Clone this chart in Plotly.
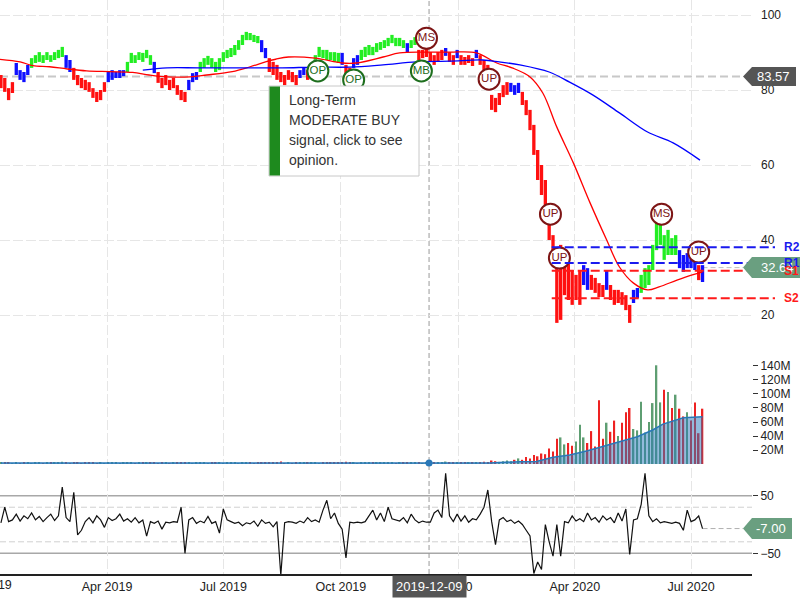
import pandas as pd
import plotly.graph_objects as go

# ---------------- data ----------------
BAR_START = "2019-01-08"      # one bar per 3 calendar days
BAR_STEP = "3D"

HIGH = [
    84.0, 83.2, 80.5, 82.1, 87.2, 85.3, 84.8, 86.7, 88.5, 89.3,
    90.1, 89.3, 90.1, 89.3, 90.1, 90.7, 91.5, 89.3, 88.0, 85.9,
    84.0, 83.2, 82.7, 82.1, 80.5, 79.5, 80.0, 82.1, 84.8, 85.3,
    84.8, 85.3, 85.3, 87.5, 89.9, 89.3, 90.1, 89.9, 90.7, 89.3,
    87.5, 84.8, 83.2, 84.0, 82.7, 83.2, 81.3, 80.0, 79.5, 82.7,
    84.5, 84.8, 87.5, 88.5, 89.1, 88.5, 87.5, 88.5, 90.1, 90.7,
    91.2, 92.0, 93.3, 94.7, 95.5, 95.2, 94.7, 94.4, 93.3, 91.2,
    88.5, 87.5, 86.7, 84.8, 84.0, 85.3, 84.8, 84.0, 85.3, 85.9,
    85.3, 86.4, 89.3, 91.5, 90.7, 90.7, 90.1, 90.1, 89.9, 89.9,
    86.7, 85.9, 88.5, 89.3, 90.7, 91.5, 92.0, 91.5, 92.5, 92.8,
    93.3, 93.9, 94.7, 93.9, 93.9, 93.3, 92.5, 93.3, 94.1, 90.7,
    90.7, 91.2, 90.1, 89.3, 90.1, 90.7, 91.2, 90.1, 89.3, 90.7,
    89.3, 88.8, 89.3, 88.5, 90.7, 89.3, 88.0, 86.7, 78.7, 77.9,
    79.2, 81.3, 82.1, 81.9, 81.3, 81.9, 79.5, 77.3, 74.7, 70.7,
    64.0, 60.0, 56.0, 49.3, 41.3, 36.0, 38.7, 37.3, 36.0, 32.0,
    30.7, 32.0, 33.3, 32.5, 30.7, 29.9, 28.5, 28.0, 32.0, 28.0,
    26.7, 26.7, 26.1, 25.3, 22.7, 26.7, 27.2, 30.7, 32.5, 33.3,
    38.7, 44.8, 44.0, 41.3, 42.7, 40.5, 41.3, 37.3, 36.0, 36.5,
    36.0, 35.5, 33.3, 33.3,
]
LOW = [
    80.5, 79.5, 77.3, 79.2, 84.0, 82.7, 82.1, 84.0, 85.9, 87.2,
    87.5, 87.2, 88.0, 87.5, 88.0, 88.5, 88.8, 85.9, 84.8, 82.7,
    81.3, 80.5, 80.0, 79.5, 77.9, 76.8, 77.3, 79.5, 82.1, 82.7,
    83.2, 83.2, 83.7, 84.8, 87.2, 87.2, 88.0, 87.5, 88.5, 86.7,
    84.5, 81.9, 80.5, 81.3, 80.0, 80.5, 78.7, 77.3, 76.8, 80.0,
    82.1, 82.7, 84.8, 85.9, 86.7, 85.9, 84.8, 85.3, 87.5, 88.5,
    88.8, 89.3, 90.7, 92.0, 93.3, 93.3, 92.8, 92.5, 90.1, 88.5,
    84.8, 84.0, 82.7, 82.1, 81.3, 82.7, 82.1, 81.3, 83.2, 84.0,
    82.7, 84.3, 86.7, 88.8, 88.5, 88.0, 88.0, 87.5, 87.2, 86.7,
    84.0, 83.2, 85.9, 86.7, 88.0, 88.8, 89.3, 89.3, 90.1, 90.7,
    91.2, 91.7, 92.5, 91.7, 91.7, 91.2, 90.1, 91.2, 92.0, 88.0,
    88.5, 88.8, 87.5, 86.7, 87.5, 88.0, 89.1, 87.5, 86.7, 88.5,
    86.7, 86.7, 87.2, 86.4, 88.5, 86.7, 85.3, 83.2, 74.7, 74.1,
    76.0, 78.1, 78.7, 79.5, 78.7, 79.2, 76.0, 73.3, 69.3, 62.7,
    56.0, 52.0, 48.0, 40.0, 33.3, 17.9, 18.7, 25.3, 24.0, 22.7,
    24.0, 22.7, 28.0, 26.7, 26.7, 25.9, 24.8, 24.8, 26.7, 24.0,
    22.7, 23.2, 22.7, 21.3, 17.9, 23.2, 24.5, 25.9, 27.2, 28.0,
    32.0, 37.3, 38.7, 34.7, 36.0, 36.0, 36.0, 32.5, 31.5, 32.5,
    32.5, 32.0, 29.3, 28.8,
]
# trend state of each bar: g = bullish, b = neutral, r = bearish (run-length)
TREND_RUNS = [
    ("r", 4), ("b", 4), ("g", 9), ("b", 2), ("r", 9), ("b", 5), ("g", 7), ("b", 1),
    ("r", 8), ("b", 3), ("g", 16), ("b", 2), ("r", 8), ("b", 2), ("r", 1), ("b", 1),
    ("g", 7), ("b", 1), ("r", 2), ("b", 2), ("g", 12), ("b", 1), ("g", 2), ("r", 7),
    ("b", 1), ("r", 2), ("b", 1), ("r", 4), ("b", 1), ("r", 8), ("b", 3), ("r", 16),
    ("b", 2), ("r", 4), ("b", 1), ("r", 6), ("b", 2), ("g", 10), ("b", 5), ("r", 1),
    ("b", 1),
]
VOLUME_M = [
    1.5, 2.2, 1.8, 1.2, 2.5, 1.4, 1.9, 2.8, 1.3, 1.6,
    2.1, 1.1, 1.7, 2.4, 1.5, 1.9, 3.2, 2.0, 1.4, 2.6,
    1.8, 1.2, 1.6, 2.3, 1.9, 1.4, 2.0, 1.3, 1.7, 2.5,
    1.5, 1.1, 1.8, 2.2, 1.6, 1.3, 2.0, 1.7, 2.9, 1.5,
    1.9, 1.2, 2.4, 1.6, 1.4, 2.1, 1.8, 2.6, 3.0, 1.7,
    1.3, 1.9, 1.5, 2.2, 1.4, 1.8, 2.5, 1.6, 1.2, 2.0,
    1.5, 1.9, 1.3, 1.7, 2.3, 1.6, 1.4, 2.0, 1.8, 2.7,
    1.5, 1.9, 1.6, 3.4, 1.4, 1.8, 1.3, 2.1, 1.7, 1.5,
    2.2, 1.6, 1.9, 1.4, 2.4, 2.8, 1.7, 2.0, 1.5, 2.2,
    3.1, 1.6, 1.8, 1.4, 1.9, 1.6, 2.3, 1.5, 2.0, 1.7,
    2.5, 1.6, 1.9, 1.4, 1.8, 1.5, 2.1, 1.7, 1.6, 1.9,
    1.4, 2.2, 1.8, 2.0, 2.4, 1.7, 3.5, 1.9, 1.6, 2.3,
    1.8, 2.0, 1.7, 2.2, 2.6, 2.9, 3.1, 3.0, 5.0, 4.0,
    3.0, 4.0, 5.0, 4.0, 6.0, 8.0, 6.0, 10.0, 8.0, 13.0,
    11.0, 15.0, 14.0, 22.0, 18.0, 36.0, 38.0, 28.0, 30.0, 26.0,
    32.0, 56.0, 38.0, 30.0, 47.0, 25.0, 91.0, 36.0, 59.0, 46.0,
    62.0, 40.0, 59.0, 74.0, 80.0, 50.0, 48.0, 89.0, 45.0, 60.0,
    87.0, 141.0, 88.0, 106.0, 103.0, 80.0, 99.0, 79.0, 68.0, 74.0,
    62.0, 88.0, 44.0, 79.0,
]
OSC = [
    3, 30, 5, 8, 18, 6, 15, 10, 20, 8,
    14, 5, 12, 18, 7, 15, 65, 12, 5, 56,
    -18, -10, 5, 12, 3, 15, 8, -5, 12, 7,
    10, 18, 6, 10, 4, 12, 3, 8, -20, 5,
    2, 6, -8, 4, 3, 5, 4, 30, -50, 8,
    12, 2, 6, 3, 14, 2, 5, -15, 27, 8,
    5, 2, 4, -2, 3, 1, 6, -3, 8, 2,
    4, -4, 5, -88, 3, 5, 4, 2, 6, 3,
    12, 5, 8, 4, 25, 42, 10, 20, 2, -8,
    -58, 4, 3, 4, 3, 5, 15, 25, 8, 20,
    5, 30, 10, 8, 6, 12, 3, 18, 8, 3,
    6, 4, 4, 20, 25, 12, 89, 15, 5, 18,
    6, 15, 4, 10, 8, 18, 30, 60, 5, -35,
    8, 12, 5, 8, 2, 6, 0, -10, -20, -85,
    -65, -78, 0, -30, -55, 0, -55, 5, 3, 15,
    6, 10, 5, 20, 8, 12, 4, 15, 8, 12,
    3, 20, 6, 27, -52, 8, 10, 35, 89, 15,
    5, 10, 3, 5, 3, 2, 4, 2, -10, 25,
    5, 8, 15, -7,
]

RED_MA_DATES = [
    "2019-01-07", "2019-01-23", "2019-02-02", "2019-02-15", "2019-03-01", "2019-03-16",
    "2019-04-03", "2019-04-21", "2019-05-04", "2019-05-18", "2019-06-05", "2019-06-18",
    "2019-07-08", "2019-07-22", "2019-08-03", "2019-08-11", "2019-08-21", "2019-09-11",
    "2019-10-02", "2019-10-13", "2019-11-03", "2019-11-16", "2019-12-07", "2019-12-25",
    "2020-01-15", "2020-01-31", "2020-02-12", "2020-02-26", "2020-03-07", "2020-03-18",
    "2020-03-31", "2020-04-13", "2020-04-26", "2020-05-06", "2020-05-17", "2020-05-28",
    "2020-06-06", "2020-06-20", "2020-07-02", "2020-07-10",
]
RED_MA = [
    88.2, 87.5, 86.5, 86.2, 85.6, 85.1, 84.9, 84.7, 84.0, 83.5,
    83.5, 84.0, 84.9, 86.2, 87.5, 88.2, 88.8, 88.5, 87.2, 87.2,
    88.8, 89.9, 90.1, 90.1, 89.9, 87.2, 85.9, 83.5, 79.2, 70.1,
    60.5, 49.9, 40.0, 32.8, 28.5, 26.7, 27.5, 29.3, 30.7, 31.5,
]
BLUE_MA_DATES = [
    "2019-04-29", "2019-05-18", "2019-06-12", "2019-07-22", "2019-08-16", "2019-09-11",
    "2019-10-08", "2019-11-03", "2019-11-29", "2019-12-25", "2020-01-20", "2020-02-02",
    "2020-02-18", "2020-03-12", "2020-03-28", "2020-04-15", "2020-05-06", "2020-05-28",
    "2020-06-17", "2020-07-08",
]
BLUE_MA = [
    85.3, 85.9, 85.9, 85.9, 85.9, 86.1, 86.1, 86.7, 87.5, 87.7,
    88.0, 87.5, 86.7, 84.8, 82.1, 78.7, 73.9, 68.8, 65.9, 61.3,
]
VOLAVG_DATES = [
    "2019-01-08", "2020-01-25", "2020-02-18", "2020-03-02", "2020-03-15", "2020-03-28",
    "2020-04-11", "2020-04-23", "2020-05-06", "2020-05-20", "2020-06-01", "2020-06-09",
    "2020-06-17", "2020-06-25", "2020-07-10",
]
VOLAVG_M = [1.3, 1.6, 3.3, 3.6, 9.5, 12.9, 19.0, 24.8, 31.9, 39.0, 48.6, 57.0, 61.9, 66.0, 67.6]

SIG_DATES = ["2019-12-07", "2019-09-13", "2019-10-11", "2019-12-03", "2020-01-25",
             "2020-03-13", "2020-03-20", "2020-06-08", "2020-07-07"]
SIG_PRICES = [93.8, 85.1, 82.7, 85.1, 82.9, 46.9, 35.2, 46.9, 36.8]
SIG_LABELS = ["MS", "OP", "OP", "MB", "UP", "UP", "UP", "MS", "UP"]

LEVEL_NAMES = ["R2", "R1", "S1", "S2"]
LEVEL_VALUES = [38.1, 33.9, 31.8, 24.5]
LEVEL_START = "2020-03-14"

CROSS_DATE = "2019-12-09"
CROSS_PRICE = 83.57
CROSS_VOL_M = 1.4
LAST_CLOSE = 32.64
LAST_OSC = -7.00

X_TICK_DATES = ["2019-04-01", "2019-07-01", "2019-10-01", "2020-01-01", "2020-04-01", "2020-07-01"]
X_TICK_LABELS = ["Apr 2019", "Jul 2019", "Oct 2019", "2020", "Apr 2020", "Jul 2020"]
X_FIRST_TICK = ("2019-01-01", "2019")      # just left of the visible range
PRICE_TICKS = [20, 40, 60, 80, 100]
VOL_TICKS_M = [20, 40, 60, 80, 100, 120, 140]
OSC_TICKS = [50, -50]
OSC_BANDS = [50, -50]
OSC_INNER = [30, -30]
TOOLTIP_LINES = ["Long-Term", "MODERATE BUY", "signal, click to see", "opinion."]

# ---------------- figure ----------------
FONT = "Liberation Sans, Arial, sans-serif"
PW, PH = 752.0, 574.0                       # plot area in pixels
X0 = pd.Timestamp("2019-01-07 06:30")
X1 = pd.Timestamp("2020-08-17 17:00")


def xfrac(d):
    return (pd.Timestamp(d) - X0) / (X1 - X0)


def px(x):
    return x / PW


def py(y):
    return (PH - y) / PH


n = len(HIGH)
assert len(LOW) == n and len(VOLUME_M) == n and len(OSC) == n
dates = pd.date_range(BAR_START, periods=n, freq=BAR_STEP)
trend = [c for c, k in TREND_RUNS for _ in range(k)]
assert len(trend) == n
TREND_COLORS = {"r": "#ff1010", "b": "#1010ff", "g": "#22ee22"}
DAY = 86400000

fig = go.Figure()

fig.add_trace(go.Bar(
    x=dates, base=LOW, y=[h - l for h, l in zip(HIGH, LOW)],
    width=2.6 * DAY, marker=dict(color=[TREND_COLORS[t] for t in trend], line_width=0),
    xaxis="x", yaxis="y", hoverinfo="skip"))

fig.add_trace(go.Scatter(x=RED_MA_DATES, y=RED_MA, mode="lines", line=dict(color="#ff0000", width=1.3, shape="spline"),
                         xaxis="x", yaxis="y", hoverinfo="skip"))
fig.add_trace(go.Scatter(x=BLUE_MA_DATES, y=BLUE_MA, mode="lines", line=dict(color="#0000ff", width=1.3, shape="spline"),
                         xaxis="x", yaxis="y", hoverinfo="skip"))

sig_col = ["#1d6e1d" if s in ("OP", "MB") else "#7d1515" for s in SIG_LABELS]
fig.add_trace(go.Scatter(
    x=SIG_DATES, y=SIG_PRICES, mode="markers+text", text=SIG_LABELS, textposition="middle center",
    textfont=dict(family=FONT, size=11.5, color=sig_col),
    marker=dict(symbol="circle", size=21, color="white", line=dict(color=sig_col, width=2)),
    xaxis="x", yaxis="y", hoverinfo="skip", cliponaxis=False))

# volume
mids = [(h + l) / 2 for h, l in zip(HIGH, LOW)]
vol_col = ["#5e9e72" if i == 0 or mids[i] >= mids[i - 1] else "#ee2222" for i in range(n)]
fig.add_trace(go.Bar(x=dates, y=[v * 1e6 for v in VOLUME_M], width=1.2 * DAY,
                     marker=dict(color=vol_col, line_width=0), xaxis="x2", yaxis="y2", hoverinfo="skip"))
fig.add_trace(go.Scatter(x=VOLAVG_DATES, y=[v * 1e6 for v in VOLAVG_M], mode="lines", fill="tozeroy",
                         fillcolor="rgba(40,120,185,0.5)", line=dict(color="#2a78b8", width=1.5),
                         xaxis="x2", yaxis="y2", hoverinfo="skip"))
fig.add_trace(go.Scatter(x=[CROSS_DATE], y=[CROSS_VOL_M * 1e6], mode="markers",
                         marker=dict(color="#2a78b8", size=7), xaxis="x2", yaxis="y2",
                         hoverinfo="skip", cliponaxis=False))

# oscillator
fig.add_trace(go.Scatter(x=dates, y=OSC, mode="lines", line=dict(color="#111", width=1.2),
                         xaxis="x3", yaxis="y3", hoverinfo="skip"))

GRID = dict(showgrid=True, gridcolor="#e6e6e6", gridwidth=1, griddash="10px,3px", zeroline=False)
XCOMMON = dict(type="date", range=[X0, X1], tickvals=X_TICK_DATES, ticktext=X_TICK_LABELS, **GRID)

fig.update_layout(
    width=800, height=600, margin=dict(l=0, r=48, t=0, b=26),
    paper_bgcolor="white", plot_bgcolor="white", showlegend=False, barmode="overlay",
    font=dict(family=FONT, size=12, color="#222"),
    xaxis=dict(domain=[0, 1], anchor="y", showticklabels=False, **XCOMMON),
    xaxis2=dict(domain=[0, 1], anchor="y2", showticklabels=False, matches="x", **XCOMMON),
    xaxis3=dict(domain=[0, 1], anchor="y3", showticklabels=True, matches="x",
                showline=True, linecolor="#222", linewidth=1.5, ticks="", tickfont=dict(size=12.5),
                **XCOMMON),
    yaxis=dict(domain=[py(350), 1], range=[10.667, 104], side="right", tickvals=PRICE_TICKS,
               ticks="", ticklabelstandoff=8, **GRID),
    yaxis2=dict(domain=[py(464), py(355)], range=[0, 155.7e6], side="right",
                tickvals=[v * 1e6 for v in VOL_TICKS_M], ticktext=[f"{v}M" for v in VOL_TICKS_M],
                showgrid=False, zeroline=False, ticks="outside", ticklen=5, tickcolor="#333"),
    yaxis3=dict(domain=[0, py(468)], range=[-85.9, 98.1], side="right", tickvals=OSC_TICKS,
                showgrid=False, zeroline=False, ticks="outside", ticklen=5, tickcolor="#333"),
)

shapes = []
annos = []
# oscillator bands
for v in OSC_BANDS:
    shapes.append(dict(type="line", xref="paper", yref="y3", x0=0, x1=1, y0=v, y1=v,
                       line=dict(color="#a8a8a8", width=1.5), layer="between"))
for v in OSC_INNER:
    shapes.append(dict(type="line", xref="paper", yref="y3", x0=0, x1=1, y0=v, y1=v,
                       line=dict(color="#d0d0d0", width=1, dash="6px,3px"), layer="between"))
# crosshair
shapes.append(dict(type="line", xref="x", yref="paper", x0=CROSS_DATE, x1=CROSS_DATE, y0=0, y1=1,
                   line=dict(color="#9a9a9a", width=1, dash="5px,3px"), layer="between"))
shapes.append(dict(type="line", xref="paper", yref="y", x0=0, x1=px(743), y0=CROSS_PRICE, y1=CROSS_PRICE,
                   line=dict(color="#c8c8c8", width=2, dash="8px,4px"), layer="between"))
# last-value guide lines
last = dates[-1]
shapes.append(dict(type="line", xref="paper", yref="y", x0=xfrac(last), x1=px(743), y0=LAST_CLOSE, y1=LAST_CLOSE,
                   line=dict(color="#c0c0c0", width=1, dash="5px,3px"), layer="between"))
shapes.append(dict(type="line", xref="paper", yref="y3", x0=xfrac(last), x1=px(743), y0=LAST_OSC, y1=LAST_OSC,
                   line=dict(color="#b0b0b0", width=1, dash="5px,3px"), layer="between"))
# support / resistance
for name, v in zip(LEVEL_NAMES, LEVEL_VALUES):
    col = "#1a1aee" if name.startswith("R") else "#ff1a1a"
    shapes.append(dict(type="line", xref="paper", yref="y", x0=xfrac(LEVEL_START), x1=px(775), y0=v, y1=v,
                       line=dict(color=col, width=2, dash="9px,4px"), layer="above"))

PRICE_PX = 3.75   # pixels per price unit
OSC_PX = 0.576


def tag(yref, val, half_units, right_px, color):
    return dict(type="path", xref="paper", yref=yref, layer="above", fillcolor=color, line=dict(width=0),
                path=(f"M {px(743)},{val} L {px(752)},{val + half_units} L {px(right_px)},{val + half_units} "
                      f"L {px(right_px)},{val - half_units} L {px(752)},{val - half_units} Z"))


shapes.append(tag("y", CROSS_PRICE, 9.5 / PRICE_PX, 796, "#555555"))
annos.append(dict(xref="paper", yref="y", x=px(773), y=CROSS_PRICE, text=f"{CROSS_PRICE:.2f}",
                  showarrow=False, xanchor="center", yanchor="middle", font=dict(color="white", size=13)))
shapes.append(tag("y", LAST_CLOSE, 10.5 / PRICE_PX, 806, "#6a9f80"))
annos.append(dict(xref="paper", yref="y", x=px(759), y=LAST_CLOSE, text=f"{LAST_CLOSE:.2f}",
                  showarrow=False, xanchor="left", yanchor="middle", font=dict(color="white", size=13)))
shapes.append(tag("y3", LAST_OSC, 10.5 / OSC_PX, 792, "#6a9f80"))
annos.append(dict(xref="paper", yref="y3", x=px(771), y=LAST_OSC, text=f"{LAST_OSC:.2f}",
                  showarrow=False, xanchor="center", yanchor="middle", font=dict(color="white", size=13)))

for name, v in zip(LEVEL_NAMES, LEVEL_VALUES):
    col = "#1a1aee" if name.startswith("R") else "#ff1a1a"
    annos.append(dict(xref="paper", yref="y", x=px(782), y=v, text=f"<b>{name}</b>", showarrow=False,
                      xanchor="left", yanchor="middle", font=dict(color=col, size=12)))

# tooltip box
shapes.append(dict(type="rect", xref="paper", yref="paper", x0=px(269), x1=px(419), y0=py(176), y1=py(86),
                   fillcolor="white", line=dict(color="#c8c8c8", width=1), layer="above"))
shapes.append(dict(type="rect", xref="paper", yref="paper", x0=px(269.5), x1=px(280), y0=py(175.5), y1=py(86.5),
                   fillcolor="#1e8a1e", line=dict(width=0), layer="above"))
for k, line in enumerate(TOOLTIP_LINES):
    annos.append(dict(xref="paper", yref="paper", x=px(287), y=py(100 + 20 * k), text=line, showarrow=False,
                      xanchor="left", yanchor="middle", font=dict(color="#333", size=14)))

# crosshair date label and the clipped first-year label
annos.append(dict(xref="x3", yref="paper", x=CROSS_DATE, y=py(575), text=CROSS_DATE, showarrow=False,
                  xanchor="center", yanchor="top", bgcolor="#555555", borderpad=3,
                  font=dict(color="white", size=13)))
annos.append(dict(xref="paper", yref="paper", x=px(-2), y=py(585), text=X_FIRST_TICK[1],
                  showarrow=False, xanchor="center", yanchor="middle", font=dict(size=12.5, color="#222")))

fig.update_layout(shapes=shapes, annotations=annos)
fig.write_html("out.html")
